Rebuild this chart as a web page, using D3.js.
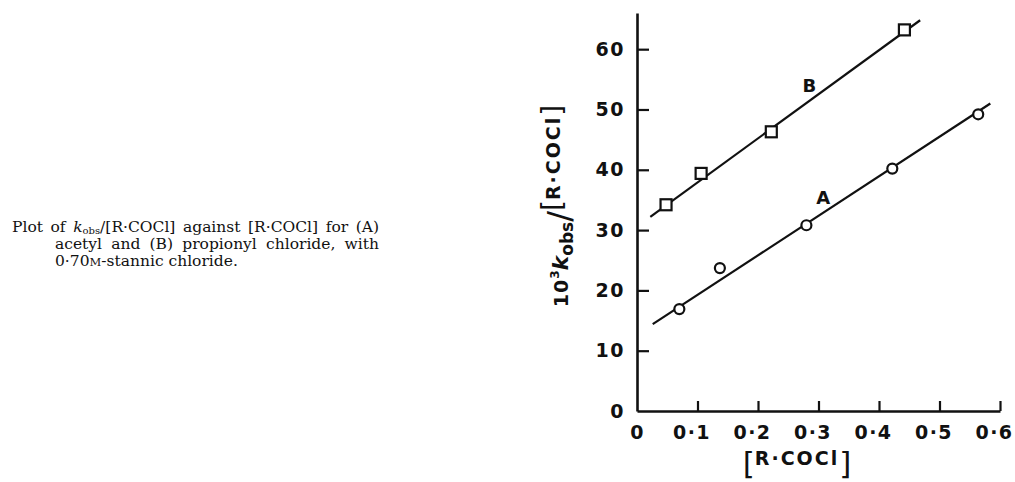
<!DOCTYPE html>
<html><head><meta charset="utf-8">
<script src="https://cdn.jsdelivr.net/npm/d3@7"></script>
<style>
html,body{margin:0;padding:0;background:#fff;}
svg{display:block;}
</style></head>
<body>
<svg id="c" width="1015" height="482"></svg>
<script>
// ---- data ----
const xTicks = [0, 0.1, 0.2, 0.3, 0.4, 0.5, 0.6];
const xTickLabels = ["0", "0·1", "0·2", "0·3", "0·4", "0·5", "0·6"];
const yTicks = [0, 10, 20, 30, 40, 50, 60];
const yTickLabels = ["0", "10", "20", "30", "40", "50", "60"];
// Series A: acetyl chloride (circles)
const xA = [0.070, 0.137, 0.280, 0.422, 0.564];
const yA = [16.9, 23.7, 30.8, 40.2, 49.2];
// Series B: propionyl chloride (squares)
const xB = [0.048, 0.106, 0.222, 0.442];
const yB = [34.2, 39.4, 46.3, 63.2];
// drawn straight lines (end points)
const lineA = [[0.026, 14.4], [0.584, 51.0]];
const lineB = [[0.022, 32.2], [0.468, 64.8]];
const seriesLabels = [{t: "A", x: 0.308, y: 35.4}, {t: "B", x: 0.285, y: 53.9}];

const svg = d3.select("#c");
const x = d3.scaleLinear().domain([0, 0.6]).range([637, 1000]);
const y = d3.scaleLinear().domain([0, 66]).range([411, 13]);
const sans = "'DejaVu Sans', sans-serif";

// axes
const gx = svg.append("g").attr("transform", `translate(0,${y(0)})`)
  .call(d3.axisBottom(x).tickValues(xTicks)
    .tickFormat((d, i) => xTickLabels[i]).tickSizeInner(-10).tickSizeOuter(0).tickPadding(15));
const gy = svg.append("g").attr("transform", `translate(${x(0)},0)`)
  .call(d3.axisLeft(y).tickValues(yTicks)
    .tickFormat((d, i) => yTickLabels[i]).tickSizeInner(-12).tickSizeOuter(0).tickPadding(12));
[gx, gy].forEach(g => {
  g.select(".domain").attr("stroke", "#111").attr("stroke-width", 2.6);
  g.selectAll(".tick line").attr("stroke", "#111").attr("stroke-width", 2.2);
  g.selectAll(".tick text").attr("fill", "#111").style("font-family", sans)
    .style("font-weight", "bold").style("font-size", "19px").style("letter-spacing", "1.5px");
});
gx.selectAll(".tick").filter(d => d !== 0).select("text").attr("dx", -6);
gx.selectAll(".tick").filter(d => d === 0).select("line").remove();
gy.selectAll(".tick").filter(d => d === 0).select("line").remove();

// lines
const lg = d3.line().x(d => x(d[0])).y(d => y(d[1]));
[lineA, lineB].forEach(L => {
  svg.append("path").attr("d", lg(L)).attr("fill", "none")
    .attr("stroke", "#111").attr("stroke-width", 2.2);
});

// points
svg.selectAll("circle.a").data(xA.map((v, i) => [v, yA[i]])).enter()
  .append("circle").attr("cx", d => x(d[0])).attr("cy", d => y(d[1])).attr("r", 5)
  .attr("fill", "#fff").attr("stroke", "#111").attr("stroke-width", 2.2);
svg.selectAll("rect.b").data(xB.map((v, i) => [v, yB[i]])).enter()
  .append("rect").attr("x", d => x(d[0]) - 5.5).attr("y", d => y(d[1]) - 5.5)
  .attr("width", 11).attr("height", 11)
  .attr("fill", "#fff").attr("stroke", "#111").attr("stroke-width", 2.2);

// series labels
svg.selectAll("text.sl").data(seriesLabels).enter().append("text")
  .attr("x", d => x(d.x)).attr("y", d => y(d.y)).attr("text-anchor", "middle")
  .attr("dominant-baseline", "central")
  .style("font-family", sans).style("font-weight", "bold").style("font-size", "18px")
  .attr("fill", "#111").text(d => d.t);

// x axis title
const xt = svg.append("text").attr("x", 797).attr("y", 465).attr("text-anchor", "middle")
  .style("font-family", sans).style("font-weight", "bold").style("font-size", "19px").attr("fill", "#111");
xt.append("tspan").attr("dy", 9).style("font-size", "31px").style("font-weight", "normal").text("[");
xt.append("tspan").attr("dy", -9).style("letter-spacing", "2px").text("R·COCl");
xt.append("tspan").attr("dy", 9).style("font-size", "31px").style("font-weight", "normal").text("]");

// y axis title
const yt = svg.append("text").attr("transform", "translate(568,206) rotate(-90)")
  .attr("text-anchor", "middle")
  .style("font-family", sans).style("font-weight", "bold").style("font-size", "19px").attr("fill", "#111");
yt.append("tspan").style("letter-spacing", "1px").text("10");
yt.append("tspan").attr("dy", -9).style("font-size", "12px").text("3");
yt.append("tspan").attr("dy", 9).style("font-style", "italic").style("font-size", "22px").text("k");
yt.append("tspan").attr("dy", 5).style("font-size", "17px").text("obs");
yt.append("tspan").attr("dy", -3).style("font-size", "32px").style("font-weight", "normal").text("/");
yt.append("tspan").attr("dy", -8).style("font-size", "28px").style("font-weight", "normal").text("[");
yt.append("tspan").attr("dy", -2).style("letter-spacing", "2px").text("R·COCl");
yt.append("tspan").attr("dy", 2).style("font-size", "28px").style("font-weight", "normal").text("]");

// caption (justified with word spacing)
const serif = "'DejaVu Serif', serif";
const cap = svg.append("g").style("font-family", serif).style("font-size", "15.5px").attr("fill", "#111");
function justify(t, target, spaces) {
  const w = t.node().getComputedTextLength();
  if (w < target) t.style("word-spacing", ((target - w) / spaces) + "px");
  else t.attr("textLength", target).attr("lengthAdjust", "spacingAndGlyphs");
}
const l1 = cap.append("text").attr("x", 12).attr("y", 232);
l1.append("tspan").text("Plot of ");
l1.append("tspan").style("font-style", "italic").text("k");
l1.append("tspan").attr("dy", 2).style("font-size", "10px").text("obs");
l1.append("tspan").attr("dy", -2).text("/[R·COCl] against [R·COCl] for (A)");
justify(l1, 367, 6);
const l2 = cap.append("text").attr("x", 55).attr("y", 249)
  .text("acetyl and (B) propionyl chloride, with");
justify(l2, 324, 5);
const l3 = cap.append("text").attr("x", 55).attr("y", 266);
l3.append("tspan").text("0·70");
l3.append("tspan").style("font-size", "11.5px").text("M");
l3.append("tspan").text("-stannic chloride.");
</script>
</body></html>
